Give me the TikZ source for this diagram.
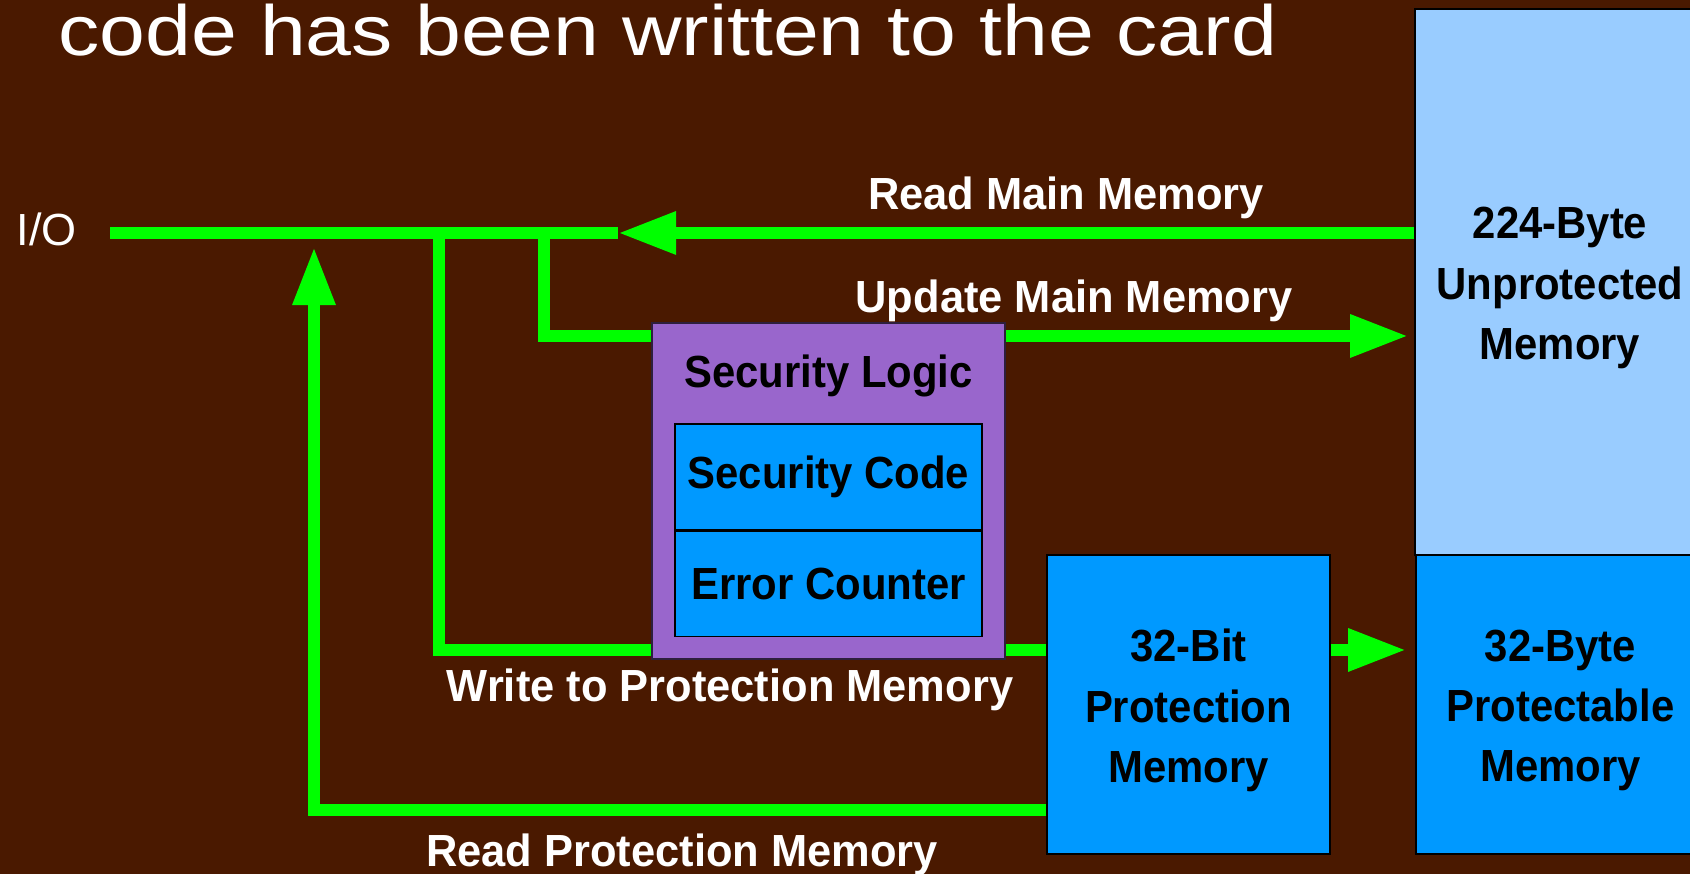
\documentclass[tikz,border=0pt]{standalone}
\usepackage{fontspec}
\setmainfont{Liberation Sans}
\newfontfamily\titlefont[FakeStretch=1.16]{Liberation Sans}
\newfontfamily\boxfont[FakeStretch=0.93]{Liberation Sans}
\newfontfamily\wirefont[FakeStretch=0.965]{Liberation Sans}
\usetikzlibrary{positioning,arrows.meta}

\definecolor{slidebg}{RGB}{74,25,0}
\definecolor{lightmem}{RGB}{153,204,255}
\definecolor{protmem}{RGB}{0,153,255}
\definecolor{logicbox}{RGB}{153,102,204}
\definecolor{wire}{RGB}{0,255,0}

\begin{document}
\begin{tikzpicture}[x=0.01cm, y=-0.01cm,
      mem/.style={draw=black, line width=0.4pt, fill=protmem, align=center, inner sep=0pt,
        font=\boxfont\bfseries\fontsize{12.8pt}{17.1pt}\selectfont},
      memtext/.style={align=center, inner sep=0pt, yshift=-0.06cm,
        font=\boxfont\bfseries\fontsize{12.8pt}{17.1pt}\selectfont},
      lab/.style={text=white, inner sep=0pt, font=\wirefont\bfseries\fontsize{12.8pt}{15pt}\selectfont},
      flow/.style={draw=wire, line width=0.12cm},
      >={Triangle[length=0.58cm,width=0.4cm]}
    ]
    \useasboundingbox (0,0) rectangle (1690,874);
    \fill[slidebg] (0,0) rectangle (1690,874);
    \clip (0,0) rectangle (1690,874);

    \node[text=white, inner sep=0pt, anchor=base west, font=\titlefont\fontsize{20.2pt}{24pt}\selectfont]
      (title) at (58,56) {code has been written to the card};

    % memory blocks
    \node[mem, fill=lightmem, minimum width=2.9cm, minimum height=5.46cm,
      label={[memtext]center:224-Byte\\Unprotected\\Memory}] (umem) at (1560,282) {};
    \node[mem, minimum width=2.89cm, minimum height=2.99cm,
      label={[memtext]center:32-Byte\\Protectable\\Memory}] (pbyte) at (1560.5,704.5) {};
    \node[mem, minimum width=2.83cm, minimum height=2.99cm,
      label={[memtext]center:32-Bit\\Protection\\Memory}] (pmem) at (1188.5,704.5) {};

    % security logic
    \node[mem, fill=logicbox, draw=black!70!logicbox, minimum width=3.53cm, minimum height=3.36cm] (slogic) at (828.5,491) {};
    \node[mem, anchor=base, draw=none, fill=none] (slabel) at (828.5,388) {Security Logic};
    \node[mem, minimum width=3.07cm, minimum height=1.06cm] (scode) at (828.5,477) {Security Code};
    \node[mem, minimum width=3.07cm, minimum height=1.05cm, below=0pt of scode] (ecount) {Error Counter};

    % wires
    \coordinate (bus) at (110,233);
    \coordinate (readtip) at (618,233);
    \coordinate (wtap) at (439,233);
    \coordinate (utap) at (544,233);
    \coordinate (uline) at (544,336);
    \coordinate (wline) at (439,650);
    \coordinate (rtip) at (314,247);
    \coordinate (rline) at (314,810);

    \draw[flow,->] (bus -| umem.west) -- (readtip);
    \draw[flow] (readtip) -- (bus);
    \draw[flow] (utap) -- (uline) -- (slogic.west |- uline);
    \draw[flow,->,shorten >=0.06cm] (slogic.east |- uline) -- (umem.west |- uline);
    \draw[flow] (wtap) -- (wline) -- (slogic.west |- wline);
    \draw[flow] (slogic.east |- wline) -- (pmem.west |- wline);
    \draw[flow,->,shorten >=0.09cm] (pmem.east |- wline) -- (pbyte.west |- wline);
    \draw[flow,->] (pmem.west |- rline) -- (rline) -- (rtip);

    % labels
    \node[text=white, inner sep=0pt, anchor=base west, font=\fontsize{12.8pt}{15pt}\selectfont] (io) at (16,246) {I/O};
    \node[lab, anchor=base] (readlab) at (1066,210) {Read Main Memory};
    \node[lab, anchor=base] (updlab) at (1074,313) {Update Main Memory};
    \node[lab, anchor=base] (wrlab) at (730,702) {Write to Protection Memory};
    \node[lab, anchor=base] (rplab) at (682,867) {Read Protection Memory};
  \end{tikzpicture}
\end{document}
